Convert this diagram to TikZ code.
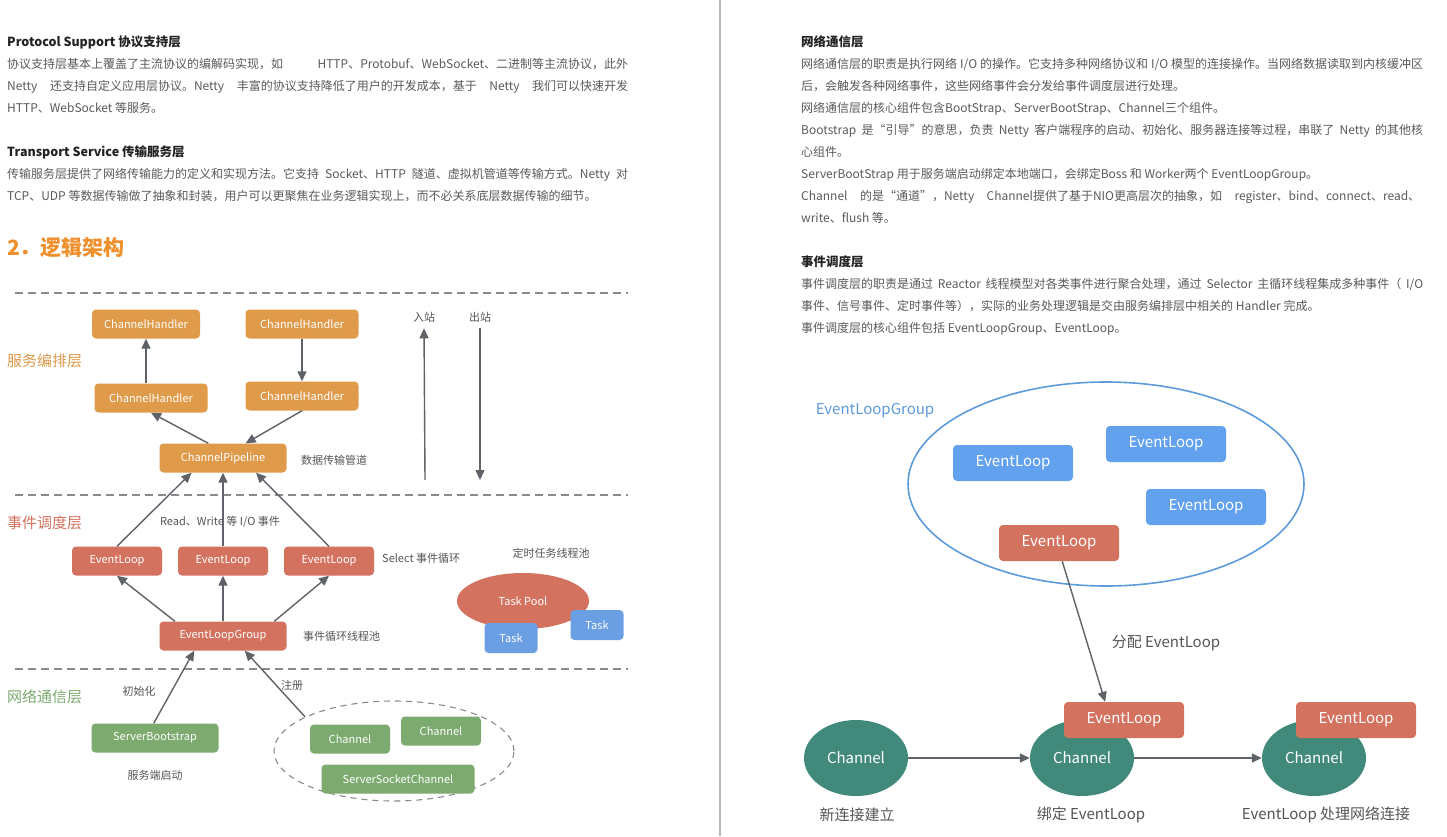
\documentclass[tikz,border=0pt]{standalone}
\usepackage{fontspec}
\setmainfont{Noto Sans CJK SC}
\usetikzlibrary{arrows.meta,shapes.geometric}

\definecolor{bodygray}{HTML}{5A5A5A}
\definecolor{headgray}{HTML}{222222}
\definecolor{lblgray}{HTML}{555555}
\definecolor{titleorange}{HTML}{F0902C}
\definecolor{svcorange}{HTML}{DF9A4A}
\definecolor{evtred}{HTML}{D3725F}
\definecolor{netgreen}{HTML}{7CAA6F}
\definecolor{taskblue}{HTML}{6A9FE4}
\definecolor{loopblue}{HTML}{62A1EE}
\definecolor{chanteal}{HTML}{41897A}
\definecolor{ringblue}{HTML}{5E9BDA}
\definecolor{arrowgray}{HTML}{5F6268}
\definecolor{dashgray}{HTML}{8A8A8A}
\definecolor{pagegray}{HTML}{B8B8B8}

% justified text line
\newcommand{\jl}[2][621pt]{\makebox[#1][s]{#2}}

\begin{document}
\begin{tikzpicture}[x=1pt,y=-1pt,
	txt/.style = {anchor=base west, inner sep=0pt, text=bodygray, font=\fontsize{12}{14}\selectfont},
	head/.style = {txt, text=headgray, font=\fontsize{12.5}{14}\selectfont\bfseries},
	lbl/.style = {inner sep=0pt, text=lblgray, font=\fontsize{11}{13}\selectfont},
	big lbl/.style = {inner sep=0pt, text=lblgray, font=\fontsize{15}{17}\selectfont},
	layer/.style = {anchor=west, inner sep=0pt, font=\fontsize{15}{17}\selectfont},
	main node/.style = {rounded corners=4pt, text=white, inner sep=0pt, minimum height=29pt, font=\fontsize{11}{13}\selectfont},
	handler node/.style = {main node, fill=svcorange, minimum width=113pt},
	loop node/.style = {main node, fill=evtred, minimum width=90pt},
	net node/.style = {main node, fill=netgreen, minimum width=80pt},
	task node/.style = {main node, fill=taskblue, minimum width=53pt, minimum height=30pt},
	group node/.style = {main node, fill=loopblue, minimum width=120pt, minimum height=36pt, font=\fontsize{15}{17}\selectfont},
	chan node/.style = {ellipse, fill=chanteal, text=white, inner sep=0pt, minimum width=104pt, minimum height=76pt, font=\fontsize{15}{17}\selectfont},
	flow/.style = {-{Triangle[length=10pt,width=9pt]}, line width=1.4pt, draw=arrowgray},
	sep line/.style = {dash pattern=on 8pt off 5pt, line width=1.4pt, draw=dashgray}]

	\useasboundingbox (0,0) rectangle (1447,836);
	\fill[white] (0,0) rectangle (1447,836);
	\draw[pagegray, line width=1.2pt] (720,0) -- (720,836);

	% left page text
	\node[head] (p1) at (7,46) {Protocol Support 协议支持层};
	\node[txt] (p2) at (7,68) {\jl{协议支持层基本上覆盖了主流协议的编解码实现，如 HTTP、Protobuf、WebSocket、二进制等主流协议，此外}};
	\node[txt] (p3) at (7,90) {\jl{Netty 还支持自定义应用层协议。Netty 丰富的协议支持降低了用户的开发成本，基于 Netty 我们可以快速开发}};
	\node[txt] (p4) at (7,112) {HTTP、WebSocket 等服务。};
	\node[head] (p5) at (7,156) {Transport Service 传输服务层};
	\node[txt] (p6) at (7,178) {\jl{传输服务层提供了网络传输能力的定义和实现方法。它支持 Socket、HTTP 隧道、虚拟机管道等传输方式。Netty 对}};
	\node[txt] (p7) at (7,200) {TCP、UDP 等数据传输做了抽象和封装，用户可以更聚焦在业务逻辑实现上，而不必关系底层数据传输的细节。};
	\node[txt, text=titleorange, font=\fontsize{21}{24}\selectfont\bfseries] (p8) at (7,255) {2．逻辑架构};

	% layers
	\draw[sep line] (15,293) -- (628,293);
	\draw[sep line] (15,495) -- (628,495);
	\draw[sep line] (15,669) -- (628,669);
	\node[layer, text=svcorange] (l1) at (7,361) {服务编排层};
	\node[layer, text=evtred] (l2) at (7,523) {事件调度层};
	\node[layer, text=netgreen] (l3) at (7,697) {网络通信层};

	% service layer
	\node[handler node, minimum width=108pt] (1) at (146,324) {ChannelHandler};
	\node[handler node] (2) at (302,324) {ChannelHandler};
	\node[handler node] (3) at (151,398) {ChannelHandler};
	\node[handler node] (4) at (302,396) {ChannelHandler};
	\node[handler node, minimum width=127pt] (5) at (223,458) {ChannelPipeline};
	\node[lbl, anchor=west] (a1) at (301,460) {数据传输管道};
	\node[lbl] (a2) at (424,317) {入站};
	\node[lbl] (a3) at (480,317) {出站};
	\coordinate (in0) at (425,480);
	\coordinate (out0) at (480,480);

	\draw[flow] (3.north -| 1) -- (1.south);
	\draw[flow] (2.south) -- (4.north);
	\draw[flow] (5.135) -- (3.south);
	\draw[flow] (4.south) -- (5.33);
	\draw[flow] (in0) -- ([yshift=-6pt]a2.south);
	\draw[flow] ([yshift=-6pt]a3.south) -- (out0);

	% event layer
	\node[lbl] (a4) at (220,522) {Read、Write 等 I/O 事件};
	\node[loop node] (6) at (117,561) {EventLoop};
	\node[loop node] (7) at (223,561) {EventLoop};
	\node[loop node] (8) at (329,561) {EventLoop};
	\node[lbl, anchor=west] (a5) at (382,558) {Select 事件循环};
	\node[loop node, minimum width=127pt] (9) at (223,636) {EventLoopGroup};
	\node[lbl, anchor=west] (a6) at (303,636) {事件循环线程池};
	\node[lbl] (a7) at (551,553) {定时任务线程池};
	\node[ellipse, fill=evtred, text=white, inner sep=0pt, minimum width=132pt, minimum height=56pt, font=\fontsize{11}{13}\selectfont] (14) at (523,601) {Task Pool};
	\node[task node] (15) at (511,638) {Task};
	\node[task node] (16) at (597,625) {Task};

	\draw[flow] (6.north) -- (5.-155);
	\draw[flow] (7.north) -- (5.south);
	\draw[flow] (8.north) -- (5.-24);
	\draw[flow] (9.163) -- (6.south);
	\draw[flow] (9.north) -- (7.south);
	\draw[flow] (9.16) -- (8.south);

	% network layer
	\node[lbl] (a8) at (139,691) {初始化};
	\node[lbl] (a9) at (292,685) {注册};
	\node[net node, minimum width=127pt] (10) at (155,738) {ServerBootstrap};
	\node[lbl] (a10) at (155,775) {服务端启动};
	\node[ellipse, draw=dashgray, dash pattern=on 6pt off 5pt, line width=1.1pt, minimum width=240pt, minimum height=100pt] (20) at (394,751) {};
	\node[net node] (11) at (350,739) {Channel};
	\node[net node] (12) at (441,731) {Channel};
	\node[net node, minimum width=153pt] (13) at (398,779) {ServerSocketChannel};

	\draw[flow] (10.95) -- (9.-153);
	\draw[flow] (20.159) -- (9.-34);

	% right page text
	\node[head] (q1) at (801,46) {网络通信层};
	\node[txt] (q2) at (801,68) {\jl[622pt]{网络通信层的职责是执行网络 I/O 的操作。它支持多种网络协议和 I/O 模型的连接操作。当网络数据读取到内核缓冲区}};
	\node[txt] (q3) at (801,90) {后，会触发各种网络事件，这些网络事件会分发给事件调度层进行处理。};
	\node[txt] (q4) at (801,112) {网络通信层的核心组件包含BootStrap、ServerBootStrap、Channel三个组件。};
	\node[txt] (q5) at (801,134) {\jl[622pt]{Bootstrap 是“引导”的意思，负责 Netty 客户端程序的启动、初始化、服务器连接等过程，串联了 Netty 的其他核}};
	\node[txt] (q6) at (801,156) {心组件。};
	\node[txt] (q7) at (801,178) {ServerBootStrap 用于服务端启动绑定本地端口，会绑定Boss 和 Worker两个 EventLoopGroup。};
	\node[txt] (q8) at (801,200) {\jl[619pt]{Channel 的是“通道”，Netty Channel提供了基于NIO更高层次的抽象，如 register、bind、connect、read、}};
	\node[txt] (q9) at (801,222) {write、flush 等。};
	\node[head] (q10) at (801,266) {事件调度层};
	\node[txt] (q11) at (801,288) {\jl[622pt]{事件调度层的职责是通过 Reactor 线程模型对各类事件进行聚合处理，通过 Selector 主循环线程集成多种事件（ I/O}};
	\node[txt] (q12) at (801,310) {事件、信号事件、定时事件等），实际的业务处理逻辑是交由服务编排层中相关的 Handler 完成。};
	\node[txt] (q13) at (801,332) {事件调度层的核心组件包括 EventLoopGroup、EventLoop。};

	% right page diagram
	\node[big lbl, text=ringblue] (b1) at (875,411) {EventLoopGroup};
	\node[ellipse, draw=ringblue, line width=1.6pt, minimum width=396pt, minimum height=204pt] (30) at (1106,484) {};
	\node[group node] (31) at (1013,463) {EventLoop};
	\node[group node] (32) at (1166,444) {EventLoop};
	\node[group node] (33) at (1206,507) {EventLoop};
	\node[group node, fill=evtred] (34) at (1059,543) {EventLoop};

	\node[chan node] (35) at (856,758) {Channel};
	\node[chan node] (36) at (1082,758) {Channel};
	\node[chan node] (37) at (1314,758) {Channel};
	\node[group node, fill=evtred] (38) at (1124,720) {EventLoop};
	\node[group node, fill=evtred] (39) at (1356,720) {EventLoop};
	\node[big lbl] (b2) at (1166,643) {分配 EventLoop};
	\node[big lbl] (b3) at (857,815) {新连接建立};
	\node[big lbl] (b4) at (1091,815) {绑定 EventLoop};
	\node[big lbl] (b5) at (1326,815) {EventLoop 处理网络连接};

	\draw[flow] (34.-80) -- (38.136);
	\draw[flow] (35.east) -- (36.west);
	\draw[flow] (36.east) -- (37.west);

\end{tikzpicture}
\end{document}
